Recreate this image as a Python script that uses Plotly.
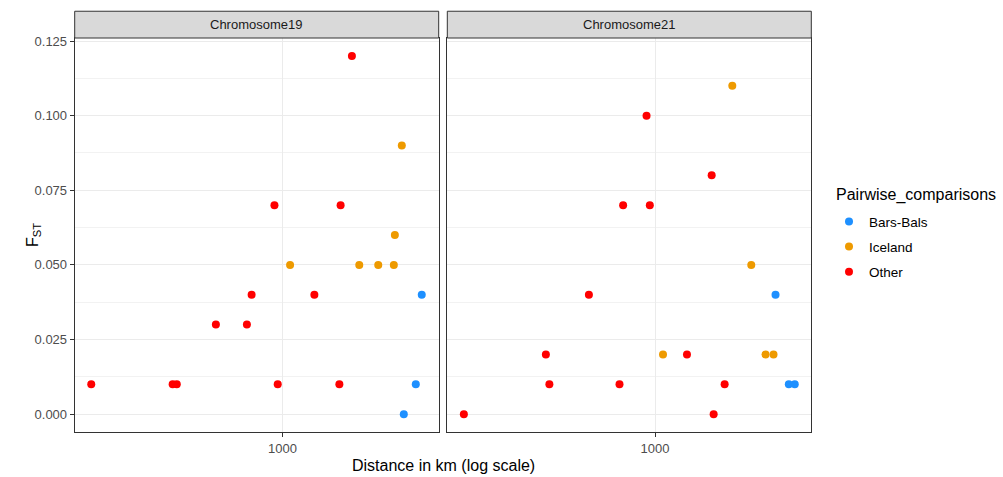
import numpy as np
import plotly.graph_objects as go

# ---------------- data ----------------
groups = ["Bars-Bals", "Iceland", "Other"]
group_colors = {"Bars-Bals": "#1E90FF", "Iceland": "#EE9A00", "Other": "#FF0000"}
panels = ["Chromosome19", "Chromosome21"]

chr19_dist = [1791, 2722, 935, 1629, 2568, 1066, 1905, 2234, 2546, 772, 1307, 3218,
              572, 742, 201, 398, 412, 961, 1612, 3061, 2768]
chr19_fst = [0.12, 0.09, 0.07, 0.07, 0.06, 0.05, 0.05, 0.05, 0.05, 0.04, 0.04, 0.04,
             0.03, 0.03, 0.01, 0.01, 0.01, 0.01, 0.01, 0.01, 0.00]
chr19_group = ["Other", "Iceland", "Other", "Other", "Iceland", "Iceland", "Iceland", "Iceland",
               "Iceland", "Other", "Other", "Bars-Bals", "Other", "Other", "Other", "Other",
               "Other", "Other", "Other", "Bars-Bals", "Bars-Bals"]

chr21_dist = [1912, 931, 1608, 765, 957, 2242, 574, 2748, 400, 1069, 1307, 2527, 2702,
              412, 742, 1793, 3072, 3229, 201, 1635]
chr21_fst = [0.11, 0.10, 0.08, 0.07, 0.07, 0.05, 0.04, 0.04, 0.02, 0.02, 0.02, 0.02, 0.02,
             0.01, 0.01, 0.01, 0.01, 0.01, 0.00, 0.00]
chr21_group = ["Iceland", "Other", "Other", "Other", "Other", "Iceland", "Other", "Bars-Bals",
               "Other", "Iceland", "Other", "Iceland", "Iceland", "Other", "Other", "Other",
               "Bars-Bals", "Bars-Bals", "Other", "Other"]

y_ticks = [0.0, 0.025, 0.05, 0.075, 0.1, 0.125]
y_ticklabels = ["0.000", "0.025", "0.050", "0.075", "0.100", "0.125"]
x_ticks = [1000]
x_ticklabels = ["1000"]

# ---------------- figure ----------------
W, H = 1003, 477
FONT = "Liberation Sans, Arial, sans-serif"

def px_x(p):
    return p / W

def px_y(p):
    return 1 - p / H

fig = go.Figure()

panel_data = [(chr19_dist, chr19_fst, chr19_group), (chr21_dist, chr21_fst, chr21_group)]
for pi, (d, f, g) in enumerate(panel_data):
    xa = "x" if pi == 0 else "x2"
    ya = "y" if pi == 0 else "y2"
    for grp in groups:
        xs = [d[i] for i in range(len(d)) if g[i] == grp]
        ys = [f[i] for i in range(len(d)) if g[i] == grp]
        fig.add_trace(go.Scatter(
            x=xs, y=ys, mode="markers", xaxis=xa, yaxis=ya,
            name=grp, legendgroup=grp, showlegend=(pi == 0),
            marker=dict(color=group_colors[grp], size=8, line=dict(width=0)),
        ))

# shared scale ranges with 5% expansion like ggplot
all_d = np.log10(np.array(chr19_dist + chr21_dist, dtype=float))
lo, hi = all_d.min(), all_d.max()
ex = 0.05 * (hi - lo)
xrange = [lo - ex, hi + ex]
all_f = np.array(chr19_fst + chr21_fst)
flo, fhi = all_f.min(), all_f.max()
fex = 0.05 * (fhi - flo)
yrange = [flo - fex, fhi + fex]

minor_y = [0.0125, 0.0375, 0.0625, 0.0875, 0.1125]

panel_top, panel_bot = 34.3, 431.7
dom_y = [px_y(panel_bot), px_y(panel_top)]
dom_x1 = [px_x(74.7), px_x(438.7)]
dom_x2 = [px_x(447.3), px_x(811.3)]

common_x = dict(type="log", range=xrange, tickvals=x_ticks, ticktext=x_ticklabels,
                showgrid=True, gridcolor="#EBEBEB", gridwidth=1, zeroline=False,
                ticks="outside", ticklen=4, tickcolor="#333333", tickwidth=1,
                showline=True, mirror=True, linecolor="#333333", linewidth=1,
                tickfont=dict(family=FONT, size=13, color="#4D4D4D"))
common_y = dict(range=yrange, tickvals=y_ticks, ticktext=y_ticklabels,
                showgrid=True, gridcolor="#EBEBEB", gridwidth=1, zeroline=False,
                showline=True, mirror=True, linecolor="#333333", linewidth=1,
                minor=dict(tickvals=minor_y, showgrid=True, gridcolor="#F2F2F2", gridwidth=1, ticks=""),
                domain=dom_y)

fig.update_layout(
    width=W, height=H,
    margin=dict(l=0, r=0, t=0, b=0),
    paper_bgcolor="white", plot_bgcolor="white",
    font=dict(family=FONT),
    xaxis=dict(domain=dom_x1, anchor="y", **common_x),
    xaxis2=dict(domain=dom_x2, anchor="y2", **common_x),
    yaxis=dict(anchor="x", ticks="outside", ticklen=4, tickcolor="#333333", tickwidth=1,
               tickfont=dict(family=FONT, size=13, color="#4D4D4D"), **common_y),
    yaxis2=dict(anchor="x2", ticks="", showticklabels=False, **common_y),
    legend=dict(
        x=px_x(829), y=px_y(204), xanchor="left", yanchor="top",
        font=dict(family=FONT, size=13.5, color="#000000"),
        traceorder="grouped", tracegroupgap=4.5, itemsizing="trace",
        bgcolor="rgba(0,0,0,0)",
    ),
    showlegend=True,
)

# legend title
fig.add_annotation(text="Pairwise_comparisons", xref="paper", yref="paper",
                   x=px_x(834), y=px_y(193), xanchor="left", yanchor="middle",
                   showarrow=False, font=dict(family=FONT, size=16, color="#000000"))

# strips
for name, dom in zip(panels, [dom_x1, dom_x2]):
    fig.add_shape(type="rect", xref="paper", yref="paper",
                  x0=dom[0], x1=dom[1], y0=px_y(panel_top), y1=px_y(7.3),
                  fillcolor="#D9D9D9", line=dict(color="#333333", width=1), layer="above")
    fig.add_annotation(text=name, xref="paper", yref="paper",
                       x=(dom[0] + dom[1]) / 2, y=px_y((7.3 + panel_top) / 2),
                       xanchor="center", yanchor="middle", showarrow=False,
                       font=dict(family=FONT, size=13, color="#1A1A1A"))

# axis titles
fig.add_annotation(text="Distance in km (log scale)", xref="paper", yref="paper",
                   x=px_x(443), y=px_y(465), xanchor="center", yanchor="middle",
                   showarrow=False, font=dict(family=FONT, size=16, color="#000000"))
fig.add_annotation(text="F<sub>ST</sub>", xref="paper", yref="paper",
                   x=px_x(33), y=px_y(233), xanchor="center", yanchor="middle",
                   textangle=-90, showarrow=False,
                   font=dict(family=FONT, size=16, color="#000000"))

fig.write_html("out.html", config={"displayModeBar": False},
               post_script="document.body.style.margin='0';")
